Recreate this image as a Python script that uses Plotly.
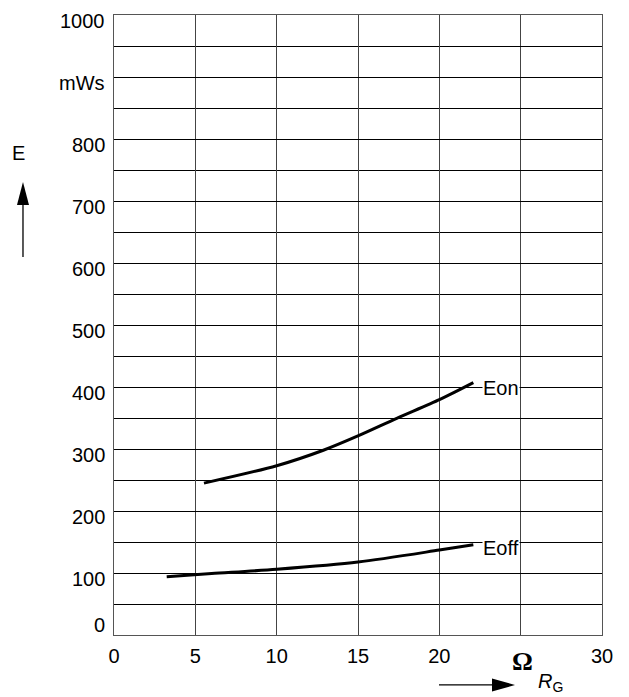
import plotly.graph_objects as go

rg_on = [5.53, 10, 12.87, 15.03, 17.38, 20.04, 22.09]
e_on = [245, 273, 298, 321.5, 349.5, 380, 407]
rg_off = [3.24, 6, 10, 15, 20, 22.09]
e_off = [94, 99, 106, 117.7, 137, 145.6]

x_ticks = [0, 5, 10, 15, 20, 30]
x_labels = ["0", "5", "10", "15", "20", "30"]
y_ticks = [0, 100, 200, 300, 400, 500, 600, 700, 800, 900, 1000]
y_labels = ["0", "100", "200", "300", "400", "500", "600", "700", "800", "mWs", "1000"]

FONT = "Liberation Sans, Arial, sans-serif"

fig = go.Figure()
fig.add_trace(go.Scatter(x=rg_on, y=e_on, mode="lines", line=dict(color="black", width=3, shape="spline", smoothing=0.8), showlegend=False))
fig.add_trace(go.Scatter(x=rg_off, y=e_off, mode="lines", line=dict(color="black", width=3, shape="spline", smoothing=0.8), showlegend=False))

fig.add_annotation(x=rg_on[-1], y=e_on[-1], text="Eon", showarrow=False, xanchor="left", yanchor="middle",
                   xshift=9, yshift=-5, bgcolor="white", font=dict(family=FONT, size=20, color="black"), borderpad=0)
fig.add_annotation(x=rg_off[-1], y=e_off[-1], text="Eoff", showarrow=False, xanchor="left", yanchor="middle",
                   xshift=9, yshift=-3, bgcolor="white", font=dict(family=FONT, size=20, color="black"), borderpad=0)

# y tick labels (drawn as annotations, slightly offset below their grid lines as in the original)
for val, lab in zip(y_ticks, y_labels):
    fig.add_annotation(xref="paper", yref="y", x=0, y=val, text=lab, showarrow=False,
                       xanchor="right", yanchor="middle", xshift=-7, yshift=(10 if val == 0 else -6),
                       font=dict(family=FONT, size=20, color="black"))

# axis label E with arrow
fig.add_annotation(xref="paper", yref="paper", x=-0.195, y=0.777, text="E", showarrow=False,
                   xanchor="center", yanchor="middle", font=dict(family=FONT, size=20, color="black"))
ux, uy = -0.1865, 0.7306
fig.add_shape(type="path", xref="paper", yref="paper", xsizemode="pixel", ysizemode="pixel",
              xanchor=ux, yanchor=uy, path="M0,0 L-6,-23 L6,-23 Z", fillcolor="black", line=dict(width=0))
fig.add_shape(type="line", xref="paper", yref="paper", xsizemode="pixel", ysizemode="pixel",
              xanchor=ux, yanchor=uy, x0=0, x1=0, y0=-20, y1=-75, line=dict(color="black", width=1.3))

# x label
fig.add_annotation(xref="paper", yref="paper", x=0.838, y=-0.0427, text="<b>Ω</b>", showarrow=False,
                   xanchor="center", yanchor="middle", font=dict(family="Liberation Serif, serif", size=26, color="black"))
fig.add_annotation(xref="paper", yref="paper", x=0.864, y=-0.0766, text="<i>R</i><sub>G</sub>", showarrow=False,
                   xanchor="left", yanchor="middle", font=dict(family=FONT, size=20, color="black"))
rx, ry = 0.8217, -0.0806
fig.add_shape(type="path", xref="paper", yref="paper", xsizemode="pixel", ysizemode="pixel",
              xanchor=rx, yanchor=ry, path="M0,0 L-23,6.5 L-23,-6.5 Z", fillcolor="black", line=dict(width=0))
fig.add_shape(type="line", xref="paper", yref="paper", xsizemode="pixel", ysizemode="pixel",
              xanchor=rx, yanchor=ry, x0=-20, x1=-76, y0=0, y1=0, line=dict(color="black", width=1.3))

fig.update_xaxes(range=[0, 30], tickvals=x_ticks, ticktext=x_labels, showgrid=True, gridcolor="#444",
                 gridwidth=1.3, zeroline=False, showline=True, linecolor="#555", linewidth=1.3, mirror=True, ticks="",
                 minor=dict(dtick=5, showgrid=True, gridcolor="#444", gridwidth=1.3),
                 tickfont=dict(family=FONT, size=20, color="black"), ticklabelstandoff=3,
                 fixedrange=True, automargin=False)
fig.update_yaxes(range=[0, 1000], tickvals=y_ticks, showticklabels=False, showgrid=True, gridcolor="black",
                 gridwidth=1, zeroline=False, showline=True, linecolor="#555", linewidth=1.3, mirror=True, ticks="",
                 minor=dict(dtick=50, showgrid=True, gridcolor="black", gridwidth=1),
                 fixedrange=True, automargin=False)

fig.update_layout(width=629, height=697, margin=dict(l=106, r=35, t=7, b=70),
                  plot_bgcolor="white", paper_bgcolor="white")
fig.write_html("out.html")
